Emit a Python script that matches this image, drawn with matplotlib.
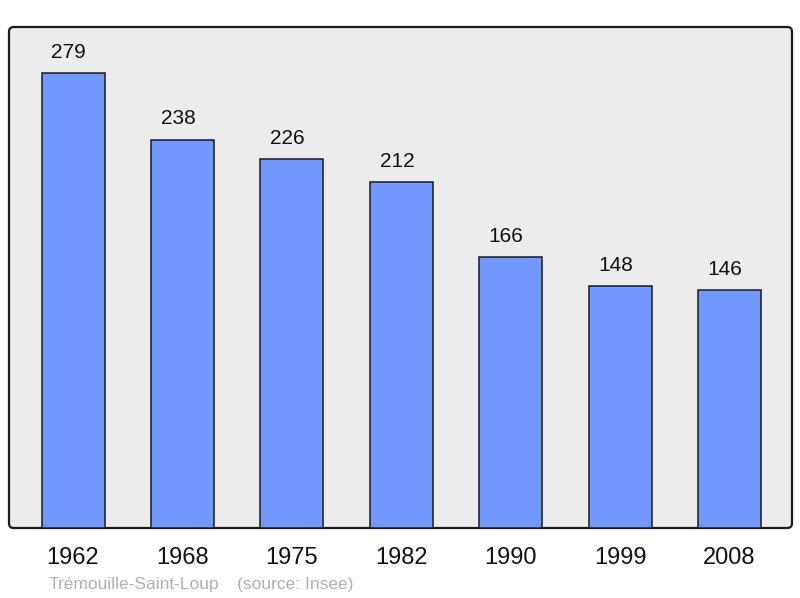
import matplotlib
matplotlib.use("Agg")
import matplotlib.pyplot as plt
from matplotlib.patches import FancyBboxPatch

years = ["1962", "1968", "1975", "1982", "1990", "1999", "2008"]
population = [279, 238, 226, 212, 166, 148, 146]
footer_name = "Trémouille-Saint-Loup"
footer_source = "(source: Insee)"

plt.rcParams['font.family'] = ['Liberation Sans', 'DejaVu Sans']

fig = plt.figure(figsize=(8, 5.98), dpi=100)
W, H = 800, 598
ax = fig.add_axes([9 / W, (H - 528) / H, (792 - 9) / W, (528 - 27) / H])
ax.set_xlim(-0.585, 6.57)
ax.set_ylim(0, 307)
ax.patch.set_visible(False)
for s in ax.spines.values():
    s.set_visible(False)

frame = FancyBboxPatch((0, 0), 1, 1, boxstyle="round,pad=0,rounding_size=0.006",
                       transform=ax.transAxes, facecolor="#ececec", edgecolor="#1a1a1a",
                       linewidth=1.6, zorder=0, clip_on=False, mutation_aspect=783 / 501)
ax.add_patch(frame)

x = list(range(len(years)))
ax.bar(x, population, width=0.576, color="#7098ff", edgecolor="#1a1a1a", linewidth=1.1, zorder=2)
for xi, v in zip(x, population):
    ax.annotate(str(v), (xi, v), xytext=(-3.2, 8), textcoords="offset points",
                ha="center", va="bottom", fontsize=15, color="#111111")

ax.set_xticks(x)
ax.set_xticklabels(years, fontsize=17, color="#111111")
ax.tick_params(axis="x", length=0, pad=14)
ax.set_yticks([])

fig.text(49 / W, 1 - 584 / H, footer_name, fontsize=12.5, color="#b0b0b0", ha="left", va="center")
fig.text(237 / W, 1 - 584 / H, footer_source, fontsize=12.5, color="#b0b0b0", ha="left", va="center")

fig.savefig("out.png", dpi=100)
